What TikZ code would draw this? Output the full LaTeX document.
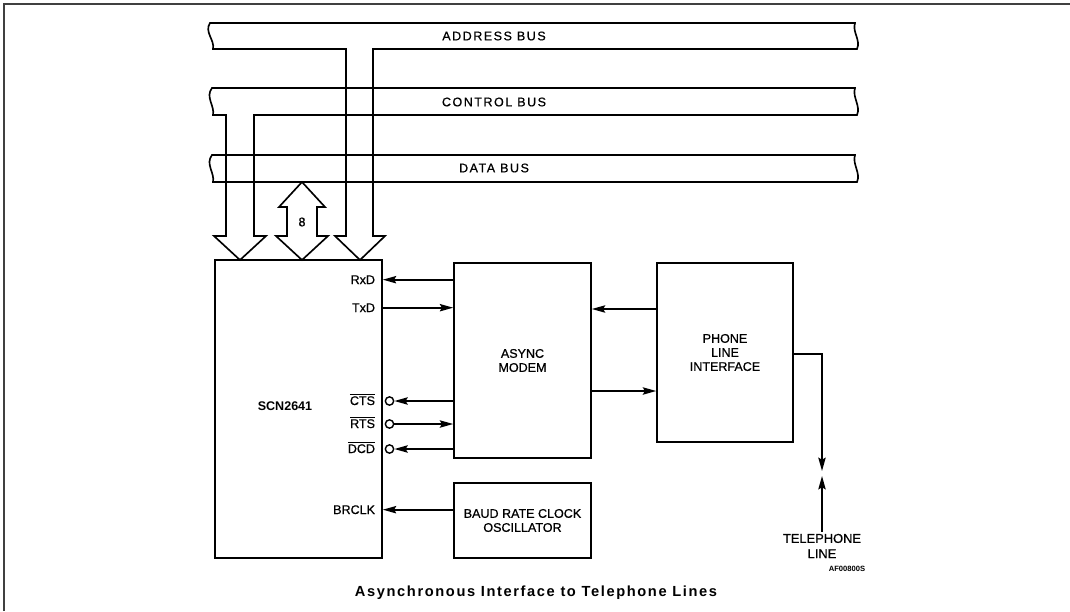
\documentclass[tikz,border=0pt]{standalone}
\usepackage{fontspec}
\setmainfont{Liberation Sans}
\newfontfamily\medfont{Liberation Sans}[FakeBold=0.7]
\usetikzlibrary{arrows.meta}

\begin{document}
\begin{tikzpicture}[x=0.03cm, y=-0.03cm, line width=1.4pt, line join=miter,
  every node/.style={font=\medfont\fontsize{10.7}{12}\selectfont, inner sep=1pt},
  buslbl/.style={font=\medfont\fontsize{10.7}{12}\selectfont\addfontfeature{LetterSpace=12}},
  blk/.style={draw, line width=1.4pt, align=center, inner sep=0pt},
  sig/.style={line width=1.4pt, -{Stealth[length=4mm, width=2.2mm, inset=0.6mm]}},
  bub/.style={draw, circle, fill=white, line width=1.2pt, minimum size=0.25cm, inner sep=0pt},
  pin/.style={anchor=base east}]
\useasboundingbox (0,0) rectangle (1070,611);
\draw[line width=0.9pt, black!75] (4,611) -- (4,4) -- (1070,4);
\draw (210,23) -- (855,23) .. controls (852,32) and (861,40) .. (857,49) -- (373,49) -- (373,236) -- (385,236) -- (360,260) -- (335,236) -- (346,236) -- (346,49) -- (213,49) .. controls (215,40) and (204,32) .. (210,23) -- cycle;
\draw (212,88) -- (855,88) .. controls (852,97) and (861,106) .. (857,115) -- (254,115) -- (254,236) -- (266,236) -- (240,260) -- (214,236) -- (226,236) -- (226,115) -- (213,115) .. controls (215,106) and (205,97) .. (212,88) -- cycle;
\draw (212,155) -- (855,155) .. controls (852,164) and (861,173) .. (857,182) -- (213,182) .. controls (215,173) and (205,164) .. (212,155) -- cycle;
\draw (302,182) -- (325,207) -- (317,207) -- (317,236) -- (328,236) -- (302,260) -- (276,236) -- (287,236) -- (287,207) -- (279,207) -- cycle;
\node[buslbl] (abus) at (494,36) {ADDRESS BUS};
\node[buslbl] (cbus) at (494,102) {CONTROL BUS};
\node[buslbl] (dbus) at (494,168) {DATA BUS};
\node (eight) at (302,222) {8};
\node[blk, minimum width=5.01cm, minimum height=8.94cm] (chip) at (298.5,409) {};
\node[font=\fontsize{10.7}{12}\selectfont\bfseries] (chipname) at (285,406) {SCN2641};
\node[blk, minimum width=4.11cm, minimum height=5.85cm] (modem) at (522.5,360.5) {ASYNC\\MODEM};
\node[blk, minimum width=4.11cm, minimum height=2.25cm] (baud) at (522.5,520.5) {BAUD RATE CLOCK\\OSCILLATOR};
\node[blk, minimum width=4.08cm, minimum height=5.37cm] (phone) at (725,352.5) {PHONE\\LINE\\INTERFACE};
\node[pin] (rxd) at (377,284) {RxD};
\node[pin] (txd) at (377,312) {TxD};
\node[pin] (cts) at (377,405) {$\overline{\hbox{CTS}}$};
\node[pin] (rts) at (377,428) {$\overline{\hbox{RTS}}$};
\node[pin] (dcd) at (377,453) {$\overline{\hbox{DCD}}$};
\node[pin] (brclk) at (377,514) {BRCLK};
\node[bub] (ctsb) at (389.5,401) {};
\node[bub] (rtsb) at (389.5,424) {};
\node[bub] (dcdb) at (389.5,449) {};
\draw[sig] (modem.west |- rxd) -- (chip.east |- rxd);
\draw[sig] (chip.east |- txd) -- (modem.west |- txd);
\draw[sig] (modem.west |- ctsb) -- (ctsb.east);
\draw[sig] (rtsb.east) -- (modem.west |- rtsb);
\draw[sig] (modem.west |- dcdb) -- (dcdb.east);
\draw[sig] (baud.west |- brclk) -- (chip.east |- brclk);
\path (phone.west) ++(0,-43.5) coordinate (pa) ++(0,82) coordinate (pb);
\draw[sig] (pa) -- (pa -| modem.east);
\draw[sig] (pb -| modem.east) -- (pb);
\node[align=center, font=\medfont\fontsize{11}{13}\selectfont] (tel) at (822,546) {TELEPHONE\\LINE};
\coordinate (jtop) at (822,471);
\coordinate (jbot) at (822,476);
\draw[sig] ([yshift=-0.045cm]phone.east) -| (jtop);
\draw[sig] (tel.north) -- (jbot);
\node[font=\fontsize{6.5}{7}\selectfont\bfseries] (afno) at (847,569) {AF00800S};
\node[font=\fontsize{12.5}{14}\selectfont\bfseries\addfontfeature{LetterSpace=11}] (caption) at (536,593) {Asynchronous Interface to Telephone Lines};
\end{tikzpicture}
\end{document}
